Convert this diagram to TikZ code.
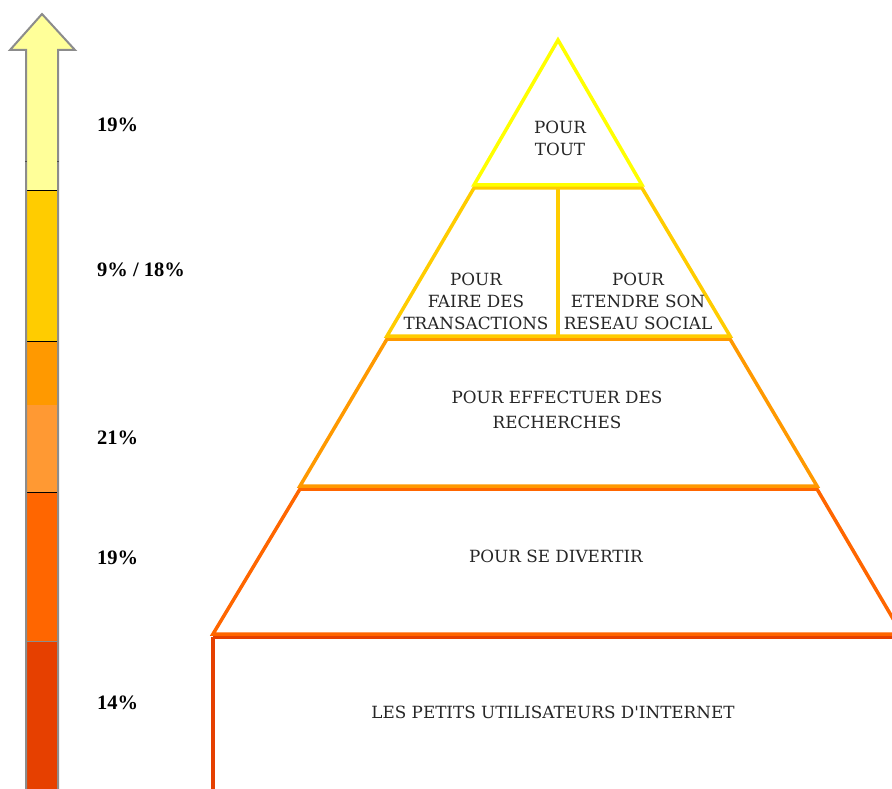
\documentclass[tikz,border=0pt]{standalone}
\usepackage{fontspec}
\setmainfont{Liberation Serif}
\newfontfamily\pyrfont{DejaVu Serif}
\definecolor{cLight}{HTML}{FFFF99}
\definecolor{cYellow}{HTML}{FFFF00}
\definecolor{cGold}{HTML}{FFCC00}
\definecolor{cOrA}{HTML}{FF9900}
\definecolor{cOrB}{HTML}{FF9933}
\definecolor{cOrC}{HTML}{FF6600}
\definecolor{cRed}{HTML}{E64000}
\definecolor{cGrey}{HTML}{8C8C8C}
\begin{document}
\begin{tikzpicture}[x=1pt,y=-1pt,
  pct/.style={font=\fontsize{20.5}{24}\selectfont\bfseries, anchor=west, inner sep=0pt},
  lbl/.style={font=\pyrfont\fontsize{16.8}{22}\selectfont, align=center, text=black!85, inner sep=0pt},
  tier/.style={line width=3.5pt, line join=miter},
  band/.style={draw=none}]
\useasboundingbox (0,0) rectangle (892,789);
\begin{scope}
\clip (0,0) rectangle (892,789);
% ---- arrow ----
\fill[cLight] (26,50) rectangle (58,190);
\fill[cLight] (10,50) -- (42,14) -- (75,50) -- cycle;
\fill[cGold] (26,190) rectangle (58,341);
\fill[cOrA] (26,341) rectangle (58,405);
\fill[cOrB] (26,405) rectangle (58,492);
\fill[cOrC] (26,492) rectangle (58,641);
\fill[cRed] (26,641) rectangle (58,800);
\draw[black, line width=0.8pt] (26,190) -- (58,190) (26,341) -- (58,341) (26,492) -- (58,492);
\draw[cGrey, line width=0.8pt] (26,641) -- (58,641);
\draw[cGrey, line width=2pt, line join=miter] (26,800) -- (26,50) -- (10,50) -- (42,14) -- (75,50) -- (58,50) -- (58,800);
\draw[black!70, line width=0.8pt] (25,161) -- (27,161) (57,161) -- (59,161);
% ---- percentages ----
\node[pct] (p1) at (97,125) {19\%};
\node[pct] (p2) at (97,270) {9\% / 18\%};
\node[pct] (p3) at (97,438) {21\%};
\node[pct] (p4) at (97,558) {19\%};
\node[pct] (p5) at (97,703) {14\%};
% ---- pyramid ----
\draw[tier, draw=cRed] (213,637) -- (902,637) (213,637) -- (213,800);
\draw[tier, draw=cOrC] (300,489) -- (817,489) -- (902,634) -- (213,634) -- cycle;
\draw[tier, draw=cOrA] (387,339) -- (730,339) -- (817,486) -- (300,486) -- cycle;
\draw[tier, draw=cGold] (474,188) -- (642,188) -- (730,336) -- (387,336) -- cycle;
\draw[tier, draw=cGold] (558,188) -- (558,336);
\draw[tier, draw=cYellow] (558,40) -- (642,185) -- (474,185) -- cycle;
% ---- labels ----
\node[lbl] (t1) at (560,138) {POUR\\TOUT};
\node[lbl] (t2) at (476,301) {POUR\\FAIRE DES\\TRANSACTIONS};
\node[lbl] (t3) at (638,301) {POUR\\ETENDRE SON\\RESEAU SOCIAL};
\node[lbl, font=\pyrfont\fontsize{16.8}{25}\selectfont] (t4) at (557,410) {POUR EFFECTUER DES\\RECHERCHES};
\node[lbl] (t5) at (556,556) {POUR SE DIVERTIR};
\node[lbl] (t6) at (553,712) {LES PETITS UTILISATEURS D'INTERNET};
\end{scope}
\end{tikzpicture}
\end{document}
